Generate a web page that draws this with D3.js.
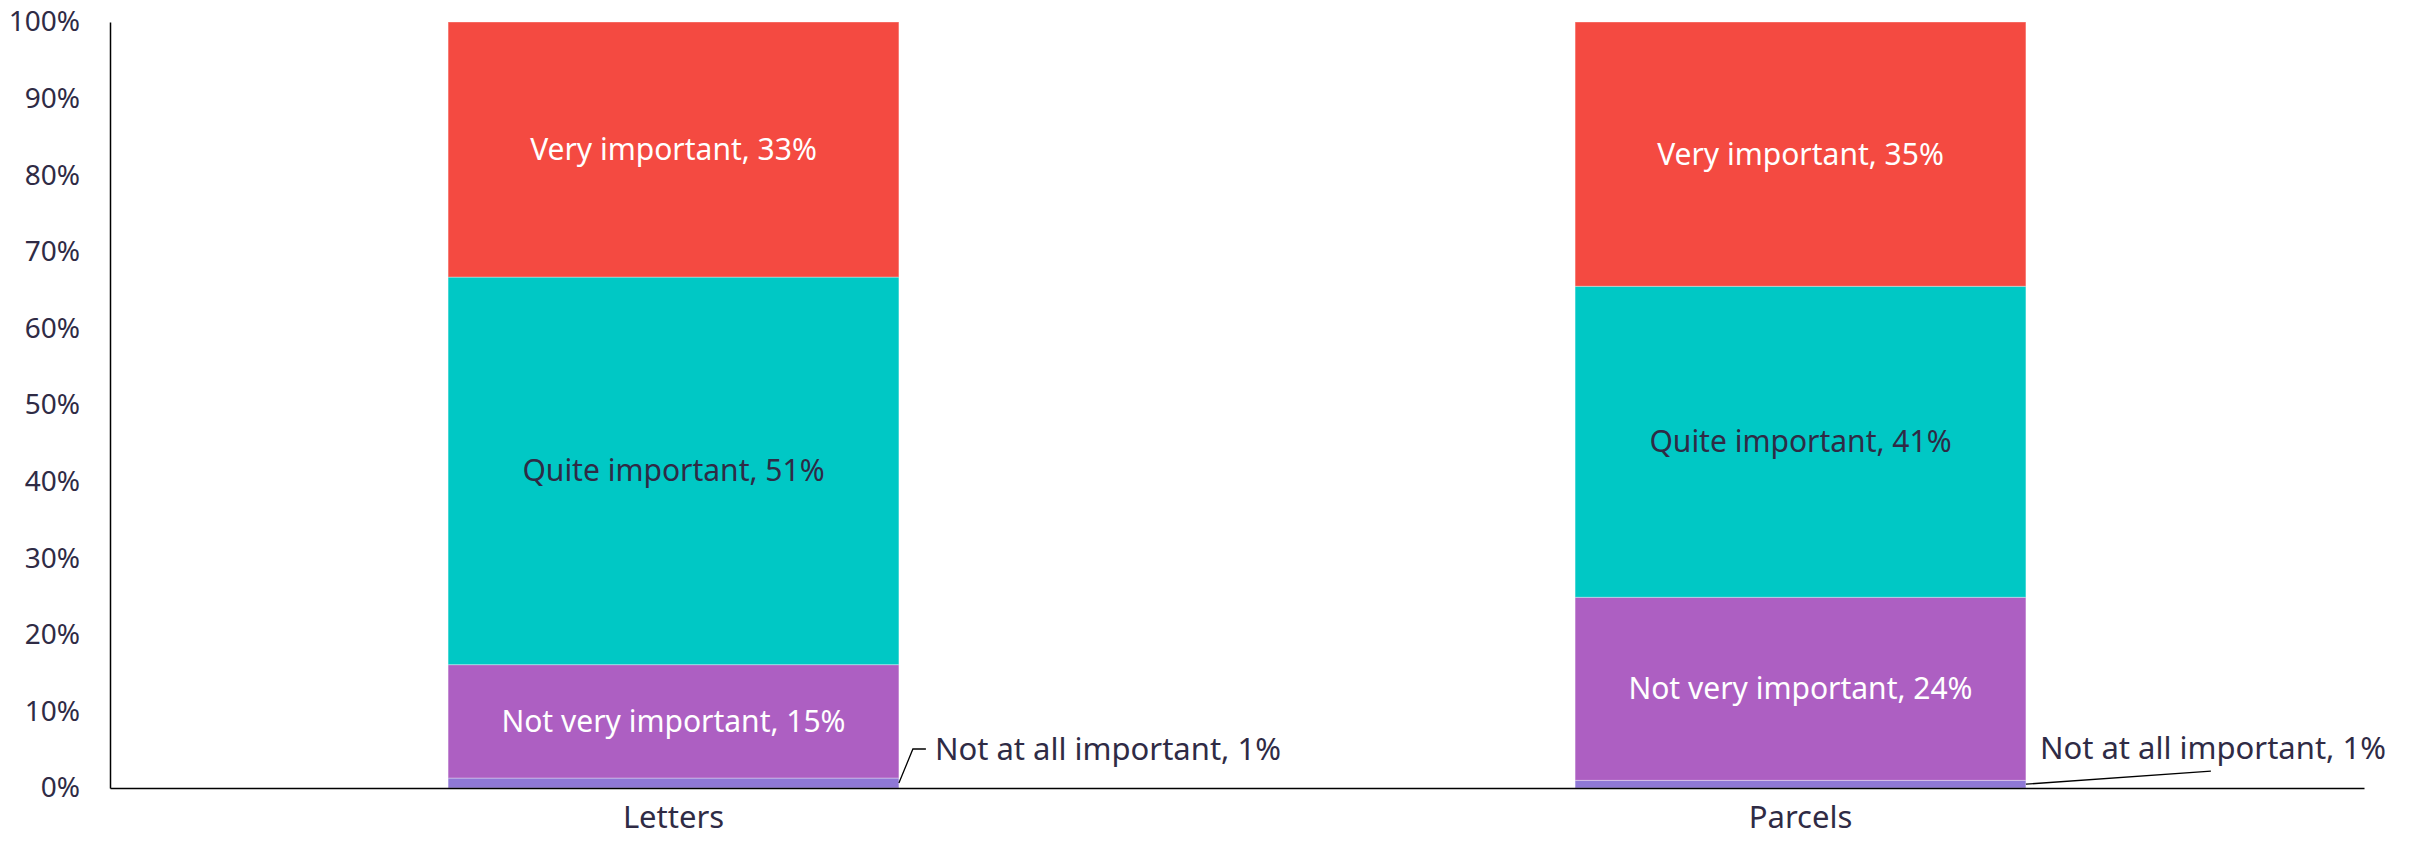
<!DOCTYPE html>
<html>
<head>
<meta charset="utf-8">
<script src="https://cdn.jsdelivr.net/npm/d3@7"></script>
<style>
  body { margin: 0; background: #fff; }
  svg text { font-family: "Noto Sans", sans-serif; }
</style>
</head>
<body>
<div id="chart"></div>
<script>
// chart data
const categories = ["Letters", "Parcels"];
const levels = ["Not at all important", "Not very important", "Quite important", "Very important"];
const letters = [1.3, 14.8, 50.6, 33.3];
const parcels = [1.0, 23.9, 40.6, 34.5];
const yTicks = [0, 10, 20, 30, 40, 50, 60, 70, 80, 90, 100];

const colors = ["#8f78d6", "#ad5fc2", "#00c8c5", "#f44a41"];
const labelColors = [null, "#ffffff", "#2f2b45", "#ffffff"];
const textColor = "#2f2b45";

const width = 2412, height = 844;
const margin = {top: 22, right: 48, bottom: 56, left: 110};

const svg = d3.select("#chart").append("svg")
  .attr("width", width)
  .attr("height", height);

const x = d3.scaleBand()
  .domain(categories)
  .range([margin.left, width - margin.right])
  .paddingInner(0.6)
  .paddingOuter(0.3);

const y = d3.scaleLinear()
  .domain([0, 100])
  .range([height - margin.bottom, margin.top]);

// build stacked rows from the arrays
const rows = categories.map((c, i) => {
  const vals = i === 0 ? letters : parcels;
  const row = {category: c};
  levels.forEach((l, j) => row[l] = vals[j]);
  return row;
});
const series = d3.stack().keys(levels)(rows);

const g = svg.append("g");
series.forEach((s, j) => {
  g.selectAll(".seg" + j)
    .data(s)
    .enter().append("rect")
    .attr("x", d => x(d.data.category))
    .attr("y", d => y(d[1]))
    .attr("width", x.bandwidth())
    .attr("height", d => y(d[0]) - y(d[1]))
    .attr("fill", colors[j])
    .attr("stroke", "rgba(255,255,255,0.35)")
    .attr("stroke-width", 1);
});

// labels inside the bars
series.forEach((s, j) => {
  if (j === 0) return;
  g.selectAll(".lab" + j)
    .data(s)
    .enter().append("text")
    .attr("x", d => x(d.data.category) + x.bandwidth() / 2)
    .attr("y", d => y((d[0] + d[1]) / 2))
    .attr("dy", "0.35em")
    .attr("text-anchor", "middle")
    .attr("fill", labelColors[j])
    .style("font-size", "30px")
    .text(d => levels[j] + ", " + Math.round(d[1] - d[0]) + "%");
});

// small segment labels with leader lines
const small = series[0];
const leader = [
  {pts: [[0, 0], [14, -34], [27, -34]], tx: 36, ty: -34},
  {pts: [[0, 0], [185, -13]], tx: 14, ty: -36}
];
small.forEach((d, i) => {
  const x0 = x(d.data.category) + x.bandwidth();
  const y0 = y((d[0] + d[1]) / 2);
  const L = leader[i];
  svg.append("path")
    .attr("d", d3.line()(L.pts.map(p => [x0 + p[0], y0 + p[1]])))
    .attr("fill", "none")
    .attr("stroke", "#000")
    .attr("stroke-width", 1.3);
  svg.append("text")
    .attr("x", x0 + L.tx)
    .attr("y", y0 + L.ty)
    .attr("dy", "0.35em")
    .attr("fill", textColor)
    .style("font-size", "31px")
    .text(levels[0] + ", " + Math.round(d[1] - d[0]) + "%");
});

// axes
const yAxis = svg.append("g")
  .attr("transform", `translate(${margin.left},0)`)
  .call(d3.axisLeft(y).tickValues(yTicks).tickSize(0).tickPadding(30).tickFormat(d => d + "%"));
yAxis.select(".domain").attr("stroke", "#000").attr("stroke-width", 1.5);
yAxis.selectAll("text").attr("fill", textColor).style("font-size", "28px");

const xAxis = svg.append("g")
  .attr("transform", `translate(0,${height - margin.bottom})`)
  .call(d3.axisBottom(x).tickSize(0).tickPadding(18));
xAxis.select(".domain").attr("stroke", "#000").attr("stroke-width", 1.5);
xAxis.selectAll("text").attr("fill", textColor).style("font-size", "31px");
</script>
</body>
</html>
